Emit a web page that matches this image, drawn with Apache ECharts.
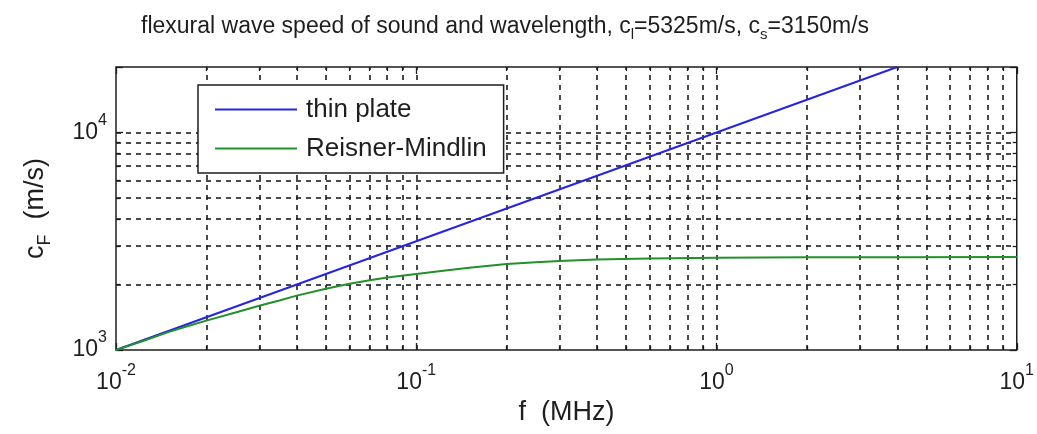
<!DOCTYPE html>
<html>
<head>
<meta charset="utf-8">
<script src="https://cdn.jsdelivr.net/npm/echarts@6/dist/echarts.min.js"></script>
<style>
  html, body { margin: 0; padding: 0; background: #fff; }
  #chart { width: 1037px; height: 434px; }
</style>
</head>
<body>
<div id="chart"></div>
<script>
// Frequencies in MHz, phase speeds in m/s
const freqThin  = [0.01, 0.02, 0.05, 0.1, 0.2, 0.5, 1, 2, 4];
const speedThin = [1000, 1414, 2236, 3162, 4472, 7071, 10000, 14142, 20000];

const freqRM  = [0.01, 0.0125, 0.015, 0.0175, 0.02, 0.025, 0.03, 0.035, 0.04, 0.05, 0.06, 0.07, 0.08, 0.1, 0.125, 0.15, 0.2, 0.25, 0.3, 0.4, 0.6, 1, 2, 4, 10];
const speedRM = [1000, 1108, 1211, 1292, 1365, 1488, 1596, 1690, 1778, 1914, 2018, 2092, 2153, 2234, 2318, 2388, 2483, 2530, 2564, 2606, 2636, 2655, 2666, 2671, 2673];

const seriesNames = ['thin plate', 'Reisner-Mindlin'];

// Dotted grid positions (every 1..9 step of each decade)
const xGridValues = [0.02, 0.03, 0.04, 0.05, 0.06, 0.07, 0.08, 0.09, 0.1,
                     0.2, 0.3, 0.4, 0.5, 0.6, 0.7, 0.8, 0.9, 1,
                     2, 3, 4, 5, 6, 7, 8, 9];
const yGridValues = [2000, 3000, 4000, 5000, 6000, 7000, 8000, 9000, 10000];

const FONT = '"Liberation Sans", Arial, sans-serif';
const INK = '#1e1e1e';

function pairs(xs, ys) {
  return xs.map((x, i) => [x, ys[i]]);
}

// Decade labels as 10 with a raised exponent
function powLabel(v) {
  const lg = Math.log10(v);
  const e = Math.round(lg);
  if (Math.abs(lg - e) > 1e-6) return '';
  return '{b|10}{s|' + e + '}';
}

const labelRich = {
  b: { fontFamily: FONT, fontSize: 23, color: INK, lineHeight: 40, verticalAlign: 'middle' },
  s: { fontFamily: FONT, fontSize: 16, color: INK, lineHeight: 14, verticalAlign: 'top' }
};

const tickStyle = { color: INK, width: 1.3 };

function logAxis(extra) {
  return Object.assign({
    type: 'log',
    logBase: 10,
    interval: 1,
    axisLine: { show: false },
    axisTick: { show: true, inside: true, length: 7, lineStyle: tickStyle },
    minorTick: { show: true, splitNumber: 9, length: 4, lineStyle: tickStyle },
    splitLine: { show: false },
    minorSplitLine: { show: false }
  }, extra);
}

const chart = echarts.init(document.getElementById('chart'), null, { renderer: 'canvas' });

chart.setOption({
  animation: false,
  backgroundColor: '#fff',
  title: {
    text: '{t|flexural wave speed of sound and wavelength, c}{sub|l}{t|=5325m/s, c}{sub|s}{t|=3150m/s}',
    left: 136,
    top: 10,
    textStyle: {
      fontWeight: 'normal',
      rich: {
        t: { fontFamily: FONT, fontSize: 23, fontWeight: 'normal', color: INK, lineHeight: 26, verticalAlign: 'top' },
        sub: { fontFamily: FONT, fontSize: 15, fontWeight: 'normal', color: INK, lineHeight: 15, verticalAlign: 'top', padding: [12, 0, 0, 0] }
      }
    }
  },
  grid: {
    left: 116, right: 17, top: 67, bottom: 84,
    show: true,
    borderColor: INK,
    borderWidth: 1.5,
    backgroundColor: '#fff'
  },
  legend: {
    data: seriesNames,
    orient: 'vertical',
    left: 198,
    top: 85,
    icon: 'rect',
    backgroundColor: '#fff',
    borderColor: INK,
    borderWidth: 1.5,
    borderRadius: 0,
    padding: [11, 17, 11, 17],
    itemWidth: 82,
    itemHeight: 2,
    itemGap: 12,
    textStyle: { fontFamily: FONT, fontSize: 26, color: INK, lineHeight: 27, padding: [0, 0, 0, 4] }
  },
  xAxis: [
    logAxis({
      min: 0.01, max: 10,
      position: 'bottom',
      name: 'f  (MHz)',
      nameLocation: 'middle',
      nameGap: 48,
      nameTextStyle: { fontFamily: FONT, fontSize: 27, color: INK },
      axisLabel: { margin: 13, formatter: powLabel, rich: labelRich }
    }),
    logAxis({
      min: 0.01, max: 10,
      position: 'top',
      axisLabel: { show: false }
    })
  ],
  yAxis: [
    logAxis({
      min: 1000, max: 20000,
      position: 'left',
      name: '{c|c}{sub|F}{c|  (m/s)}',
      nameLocation: 'middle',
      nameRotate: 90,
      nameGap: 66,
      nameTextStyle: {
        rich: {
          c: { fontFamily: FONT, fontSize: 27, color: INK, lineHeight: 28, verticalAlign: 'top' },
          sub: { fontFamily: FONT, fontSize: 18, color: INK, lineHeight: 18, verticalAlign: 'top', padding: [14, 0, 0, 0] }
        }
      },
      axisLabel: { margin: 9, formatter: powLabel, rich: labelRich }
    }),
    logAxis({
      min: 1000, max: 20000,
      position: 'right',
      axisLabel: { show: false }
    })
  ],
  series: [
    {
      name: seriesNames[0],
      type: 'line',
      xAxisIndex: 0,
      yAxisIndex: 0,
      data: pairs(freqThin, speedThin),
      symbol: 'none',
      z: 3,
      lineStyle: { color: '#2525e0', width: 2 },
      itemStyle: { color: '#2525e0' },
      markLine: {
        silent: true,
        z: 1,
        symbol: ['none', 'none'],
        label: { show: false },
        animation: false,
        lineStyle: { color: INK, width: 1.6, type: [5, 5] },
        data: xGridValues.map(v => ({ xAxis: v }))
          .concat(yGridValues.map(v => ({ yAxis: v })))
      }
    },
    {
      name: seriesNames[1],
      type: 'line',
      xAxisIndex: 0,
      yAxisIndex: 0,
      data: pairs(freqRM, speedRM),
      symbol: 'none',
      smooth: false,
      z: 3,
      lineStyle: { color: '#23902a', width: 2 },
      itemStyle: { color: '#23902a' }
    }
  ]
});
</script>
</body>
</html>
